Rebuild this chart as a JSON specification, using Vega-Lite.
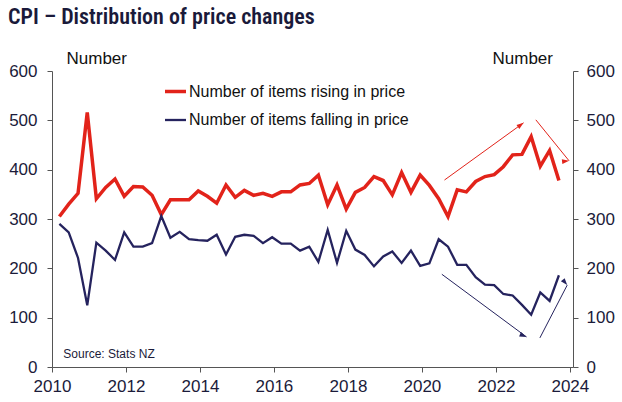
{
  "$schema": "https://vega.github.io/schema/vega-lite/v6.json",
  "width": 521,
  "height": 296,
  "autosize": {"type": "none"},
  "padding": {"left": 52, "top": 71, "right": 49, "bottom": 35},
  "title": {
    "text": "CPI – Distribution of price changes",
    "anchor": "start",
    "frame": "group",
    "font": "'Roboto Condensed', 'DejaVu Sans Condensed', 'Liberation Sans'",
    "fontWeight": 600,
    "fontSize": 22,
    "color": "#1a1a3a",
    "baseline": "alphabetic",
    "offset": 3,
    "dx": -44
  },
  "config": {
    "view": {"stroke": null},
    "font": "Liberation Sans",
    "axis": {
      "grid": false,
      "domainColor": "#555555",
      "tickColor": "#555555",
      "labelColor": "#1b1b3a",
      "labelFontSize": 17,
      "labelFont": "Liberation Sans",
      "tickSize": 5,
      "titleFont": "Liberation Sans",
      "titleFontSize": 17,
      "titleFontWeight": "normal",
      "titleColor": "#111111"
    }
  },
  "datasets": {
    "cpi": [
      {"date": "2010-03-15", "rising": 305, "falling": 290},
      {"date": "2010-06-15", "rising": 330, "falling": 273},
      {"date": "2010-09-15", "rising": 352, "falling": 221},
      {"date": "2010-12-15", "rising": 516, "falling": 125},
      {"date": "2011-03-15", "rising": 341, "falling": 252},
      {"date": "2011-06-15", "rising": 364, "falling": 236},
      {"date": "2011-09-15", "rising": 381, "falling": 217},
      {"date": "2011-12-15", "rising": 346, "falling": 273},
      {"date": "2012-03-15", "rising": 366, "falling": 244},
      {"date": "2012-06-15", "rising": 365, "falling": 244},
      {"date": "2012-09-15", "rising": 348, "falling": 251},
      {"date": "2012-12-15", "rising": 309, "falling": 306},
      {"date": "2013-03-15", "rising": 339, "falling": 262},
      {"date": "2013-06-15", "rising": 339, "falling": 274},
      {"date": "2013-09-15", "rising": 339, "falling": 259},
      {"date": "2013-12-15", "rising": 357, "falling": 257},
      {"date": "2014-03-15", "rising": 346, "falling": 256},
      {"date": "2014-06-15", "rising": 332, "falling": 268},
      {"date": "2014-09-15", "rising": 369, "falling": 228},
      {"date": "2014-12-15", "rising": 344, "falling": 264},
      {"date": "2015-03-15", "rising": 358, "falling": 268},
      {"date": "2015-06-15", "rising": 348, "falling": 266},
      {"date": "2015-09-15", "rising": 352, "falling": 251},
      {"date": "2015-12-15", "rising": 346, "falling": 263},
      {"date": "2016-03-15", "rising": 355, "falling": 250},
      {"date": "2016-06-15", "rising": 355, "falling": 250},
      {"date": "2016-09-15", "rising": 369, "falling": 236},
      {"date": "2016-12-15", "rising": 372, "falling": 244},
      {"date": "2017-03-15", "rising": 389, "falling": 213},
      {"date": "2017-06-15", "rising": 329, "falling": 278},
      {"date": "2017-09-15", "rising": 369, "falling": 211},
      {"date": "2017-12-15", "rising": 320, "falling": 276},
      {"date": "2018-03-15", "rising": 354, "falling": 238},
      {"date": "2018-06-15", "rising": 364, "falling": 227},
      {"date": "2018-09-15", "rising": 386, "falling": 204},
      {"date": "2018-12-15", "rising": 378, "falling": 224},
      {"date": "2019-03-15", "rising": 349, "falling": 234},
      {"date": "2019-06-15", "rising": 394, "falling": 211},
      {"date": "2019-09-15", "rising": 354, "falling": 236},
      {"date": "2019-12-15", "rising": 389, "falling": 205},
      {"date": "2020-03-15", "rising": 368, "falling": 210},
      {"date": "2020-06-15", "rising": 341, "falling": 259},
      {"date": "2020-09-15", "rising": 305, "falling": 244},
      {"date": "2020-12-15", "rising": 359, "falling": 207},
      {"date": "2021-03-15", "rising": 355, "falling": 207},
      {"date": "2021-06-15", "rising": 376, "falling": 182},
      {"date": "2021-09-15", "rising": 386, "falling": 167},
      {"date": "2021-12-15", "rising": 390, "falling": 166},
      {"date": "2022-03-15", "rising": 406, "falling": 148},
      {"date": "2022-06-15", "rising": 430, "falling": 145},
      {"date": "2022-09-15", "rising": 431, "falling": 126},
      {"date": "2022-12-15", "rising": 467, "falling": 106},
      {"date": "2023-03-15", "rising": 407, "falling": 151},
      {"date": "2023-06-15", "rising": 439, "falling": 134},
      {"date": "2023-09-15", "rising": 378, "falling": 186}
    ],
    "arrows": [
      {"arrow": "r1", "key": "rising", "start": "2020-08-11", "startValue": 379, "end": "2022-10-01", "endValue": 495},
      {"arrow": "r2", "key": "rising", "start": "2023-01-30", "startValue": 501, "end": "2023-12-24", "endValue": 418},
      {"arrow": "f1", "key": "falling", "start": "2020-07-16", "startValue": 188, "end": "2022-10-30", "endValue": 61},
      {"arrow": "f2", "key": "falling", "start": "2023-03-11", "startValue": 59, "end": "2023-12-06", "endValue": 166}
    ],
    "notes": [
      {"date": "2010-04-23", "value": 19, "text": "Source: Stats NZ"}
    ]
  },
  "layer": [
    {
      "data": {"name": "cpi"},
      "transform": [{"fold": ["rising", "falling"], "as": ["key", "value"]}],
      "mark": {"type": "line", "strokeJoin": "miter", "strokeCap": "butt"},
      "encoding": {
        "x": {
          "field": "date",
          "type": "temporal",
          "scale": {"domain": [{"year": 2010, "month": 1, "date": 1, "utc": true}, {"year": 2024, "month": 2, "date": 1, "utc": true}]},
          "axis": {
            "title": null,
            "values": [
              {"year": 2010, "month": 1, "date": 1, "utc": true},
              {"year": 2011, "month": 1, "date": 1, "utc": true},
              {"year": 2012, "month": 1, "date": 1, "utc": true},
              {"year": 2013, "month": 1, "date": 1, "utc": true},
              {"year": 2014, "month": 1, "date": 1, "utc": true},
              {"year": 2015, "month": 1, "date": 1, "utc": true},
              {"year": 2016, "month": 1, "date": 1, "utc": true},
              {"year": 2017, "month": 1, "date": 1, "utc": true},
              {"year": 2018, "month": 1, "date": 1, "utc": true},
              {"year": 2019, "month": 1, "date": 1, "utc": true},
              {"year": 2020, "month": 1, "date": 1, "utc": true},
              {"year": 2021, "month": 1, "date": 1, "utc": true},
              {"year": 2022, "month": 1, "date": 1, "utc": true},
              {"year": 2023, "month": 1, "date": 1, "utc": true},
              {"year": 2024, "month": 1, "date": 1, "utc": true}
            ],
            "labelExpr": "utcyear(datum.value) % 2 == 0 ? utcFormat(datum.value, '%Y') : ''",
            "labelPadding": 6,
            "labelFlush": false,
            "labelOverlap": false
          }
        },
        "y": {
          "field": "value",
          "type": "quantitative",
          "scale": {"domain": [0, 600], "nice": false},
          "axis": {
            "values": [0, 100, 200, 300, 400, 500, 600],
            "title": "Number",
            "titleAngle": 0,
            "titleAlign": "left",
            "titleBaseline": "middle",
            "titleX": 14,
            "titleY": -13,
            "labelPadding": 10
          }
        },
        "color": {
          "field": "key",
          "type": "nominal",
          "scale": {"domain": ["rising", "falling"], "range": ["#e2231a", "#25235e"]},
          "legend": {
            "title": null,
            "orient": "none",
            "legendX": 111,
            "legendY": 8,
            "symbolType": "stroke",
            "symbolSize": 441,
            "labelFontSize": 16,
            "labelFont": "Liberation Sans",
            "labelColor": "#111111",
            "labelLimit": 0,
            "labelOffset": 1,
            "rowPadding": 8,
            "padding": 0,
            "labelExpr": "datum.label == 'rising' ? 'Number of items rising in price' : 'Number of items falling in price'"
          }
        },
        "strokeWidth": {
          "field": "key",
          "type": "nominal",
          "scale": {"domain": ["rising", "falling"], "range": [3.5, 2.3]},
          "legend": null
        }
      }
    },
    {
      "data": {"name": "arrows"},
      "mark": {"type": "rule", "strokeWidth": 1},
      "encoding": {
        "x": {"field": "start", "type": "temporal"},
        "x2": {"field": "end"},
        "y": {
          "field": "startValue",
          "type": "quantitative",
          "axis": {
            "orient": "right",
            "values": [0, 100, 200, 300, 400, 500, 600],
            "title": "Number",
            "titleAngle": 0,
            "titleAlign": "left",
            "titleBaseline": "middle",
            "titleX": -81,
            "titleY": -13,
            "labelPadding": 8
          }
        },
        "y2": {"field": "endValue"},
        "color": {"field": "key", "type": "nominal"}
      }
    },
    {
      "data": {"name": "arrows"},
      "mark": {"type": "point", "filled": true, "opacity": 1, "shape": "M0,0L-0.7,2L0.7,2Z", "size": 49},
      "encoding": {
        "x": {"field": "end", "type": "temporal"},
        "y": {"field": "endValue", "type": "quantitative", "axis": null},
        "color": {"field": "key", "type": "nominal"},
        "angle": {
          "field": "arrow",
          "type": "ordinal",
          "scale": {"domain": ["r1", "r2", "f1", "f2"], "range": [54, 140.6, 126.8, 27.3]},
          "legend": null
        }
      }
    },
    {
      "data": {"name": "notes"},
      "mark": {"type": "text", "align": "left", "baseline": "alphabetic", "fontSize": 12, "color": "#1b1b3a", "font": "Liberation Sans"},
      "encoding": {
        "x": {"field": "date", "type": "temporal"},
        "y": {"field": "value", "type": "quantitative", "axis": null},
        "text": {"field": "text"}
      }
    }
  ],
  "resolve": {"axis": {"y": "independent"}}
}
